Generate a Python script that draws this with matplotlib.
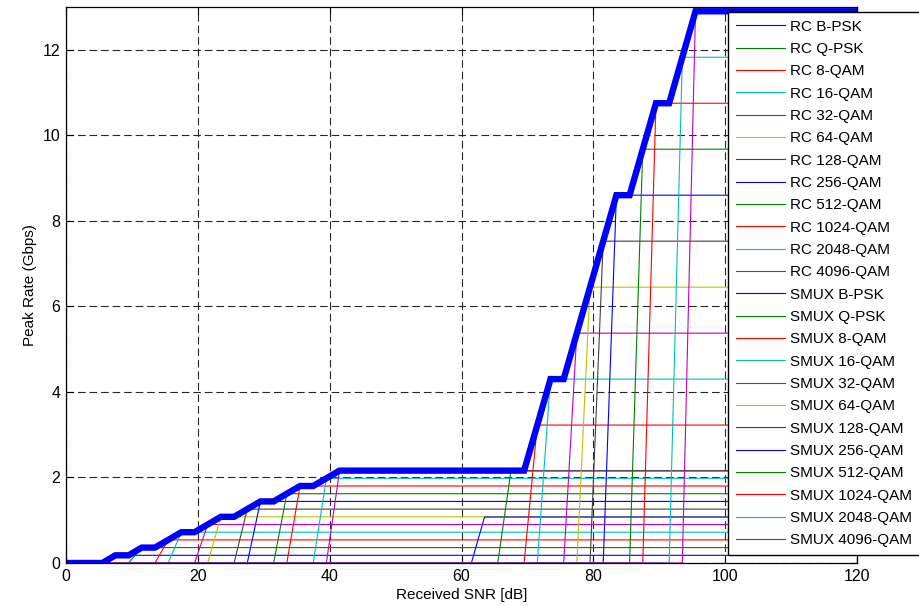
import numpy as np
import matplotlib
matplotlib.use("Agg")
import matplotlib.pyplot as plt

plt.rcParams["font.family"] = ["Liberation Sans", "DejaVu Sans"]
plt.rcParams["lines.scale_dashes"] = False

# Modulation formats
modulations = ["B-PSK", "Q-PSK", "8-QAM", "16-QAM", "32-QAM", "64-QAM",
               "128-QAM", "256-QAM", "512-QAM", "1024-QAM", "2048-QAM", "4096-QAM"]

# Peak rate reached by each format (Gbps)
rc_rate = [0.18, 0.36, 0.54, 0.72, 0.90, 1.08, 1.26, 1.44, 1.62, 1.80, 1.98, 2.16]
smux_rate = [1.075, 2.15, 3.225, 4.30, 5.375, 6.45, 7.525, 8.60, 9.675, 10.75, 11.825, 12.90]

# Lowest sampled SNR (dB) at which each format is usable
rc_snr_min = [7.5, 11.5, 15.5, 17.5, 21.5, 23.5, 27.5, 29.5, 33.5, 35.5, 39.5, 41.5]
smux_snr_min = [63.5, 67.5, 71.5, 73.5, 77.5, 79.5, 81.5, 83.5, 87.5, 89.5, 93.5, 95.5]

# SNR sampling grid (dB)
snr = np.arange(-0.5, 122.0, 2.0)

# MATLAB-style default colour order
color_order = [(0, 0, 1), (0, 0.5, 0), (1, 0, 0), (0, 0.75, 0.75),
               (0.75, 0, 0.75), (0.75, 0.75, 0), (0.25, 0.25, 0.25)]

fig = plt.figure(figsize=(9.19, 6.06), dpi=100)
ax = fig.add_axes([66 / 919, 43 / 606, 791 / 919, 556 / 606])

envelope = np.zeros_like(snr)
for prefix, rates, thresholds in (("RC", rc_rate, rc_snr_min),
                                  ("SMUX", smux_rate, smux_snr_min)):
    for i, (name, rate, thr) in enumerate(zip(modulations, rates, thresholds)):
        curve = np.where(snr >= thr, rate, 0.0)
        envelope = np.maximum(envelope, curve)
        ax.plot(snr, curve, color=color_order[i % len(color_order)], lw=0.8,
                label=f"{prefix} {name}")

ax.plot(snr, envelope, color=(0, 0, 1), lw=4.6, solid_joinstyle="miter",
        solid_capstyle="butt")

ax.set_xlim(0, 120)
ax.set_ylim(0, 13)
ax.set_xticks(np.arange(0, 121, 20))
ax.set_yticks(np.arange(0, 13, 2))
ax.grid(True, color="0.15", lw=0.8, linestyle=(0, (5.5, 2.8)))
ax.set_axisbelow(True)
ax.tick_params(direction="in", length=5, width=0.8, top=True, right=True,
               labelsize=11.5, pad=4)
for sp in ax.spines.values():
    sp.set_linewidth(0.9)

ax.set_xlabel("Received SNR [dB]", fontsize=11, labelpad=3)
ax.set_ylabel("Peak Rate (Gbps)", fontsize=11, labelpad=4)

leg = ax.legend(loc="upper left", bbox_to_anchor=(728 / 919, 1 - 12 / 606),
                bbox_transform=fig.transFigure, fontsize=11, frameon=True,
                fancybox=False, shadow=False, framealpha=1.0, edgecolor="black",
                handlelength=3.2, handletextpad=0.35, labelspacing=0.546,
                borderpad=0.5, borderaxespad=0.0)
leg.get_frame().set_linewidth(1.0)

fig.savefig("out.png", dpi=100)
